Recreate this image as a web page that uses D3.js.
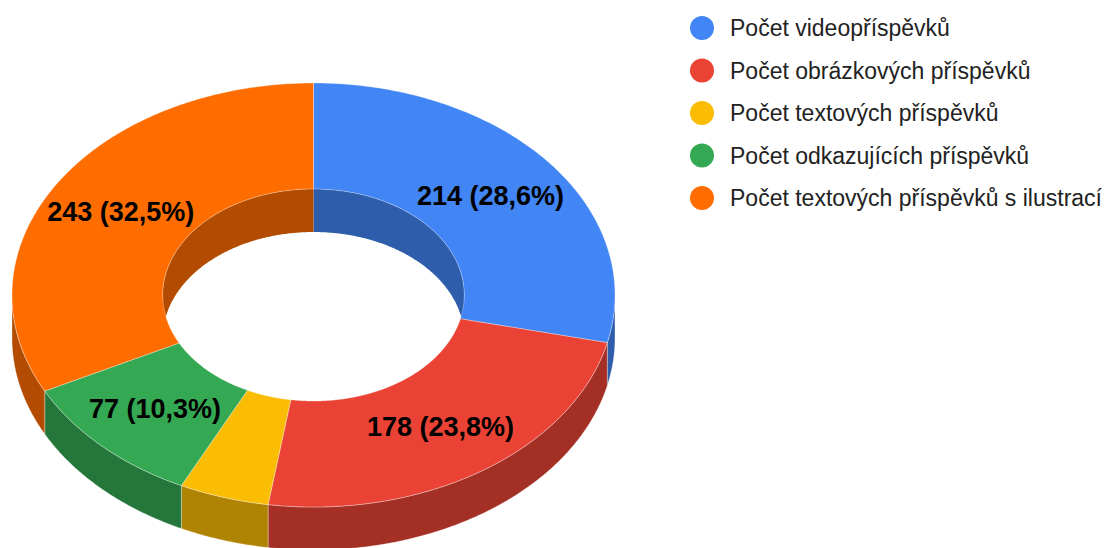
<!DOCTYPE html>
<html>
<head>
<meta charset="utf-8">
<script src="https://cdn.jsdelivr.net/npm/d3@7"></script>
<style>
  html, body { margin: 0; padding: 0; background: #fff; }
  svg { display: block; }
</style>
</head>
<body>
<svg id="chart" width="1109" height="548"></svg>
<script>
// Data
const categories = [
  "Počet videopříspěvků",
  "Počet obrázkových příspěvků",
  "Počet textových příspěvků",
  "Počet odkazujících příspěvků",
  "Počet textových příspěvků s ilustrací"
];
const values = [214, 178, 36, 77, 243];
const colors = ["#4285F4", "#EA4335", "#FBBC04", "#34A853", "#FF6D01"];

// Geometry of the tilted donut
const W = 1109, H = 548;
const cx = 313.5, cy = 295;
const rx = 301.5, ry = 212;
const hole = 0.5;
const depth = 43;
const fontFamily = "Arial, 'Liberation Sans', sans-serif";

const svg = d3.select("#chart");
const total = d3.sum(values);
const fmtPct = v => (v / total * 100).toFixed(1).replace(".", ",") + "%";

const pie = d3.pie().sort(null).startAngle(0).endAngle(2 * Math.PI);
const arcs = pie(values).map((d, i) => ({ ...d, i }));

// point on an ellipse for angle a (0 = 12 o'clock, clockwise)
const pt = (a, k, dy = 0) => [cx + rx * k * Math.sin(a), cy - ry * k * Math.cos(a) + dy];
function samples(a0, a1, k, dy) {
  const n = Math.max(2, Math.ceil(Math.abs(a1 - a0) / 0.01));
  return d3.range(n + 1).map(j => pt(a0 + (a1 - a0) * j / n, k, dy));
}
const line = d3.line();
const closed = pts => line(pts) + "Z";

// Side band between an elliptical arc and the same arc pushed down by depth
function wall(a0, a1, k) {
  return closed(samples(a0, a1, k, 0).concat(samples(a1, a0, k, depth)));
}
function topSlice(a0, a1) {
  return closed(samples(a0, a1, 1, 0).concat(samples(a1, a0, hole, 0)));
}
const dark = c => d3.rgb(c).darker(1).formatHex();

const g = svg.append("g");

// Inner walls: visible through the hole on the far half
const backRanges = [[0, Math.PI / 2], [1.5 * Math.PI, 2 * Math.PI]];
arcs.forEach(d => {
  backRanges.forEach(([r0, r1]) => {
    const b0 = Math.max(d.startAngle, r0), b1 = Math.min(d.endAngle, r1);
    if (b1 > b0) {
      g.append("path").attr("d", wall(b0, b1, hole))
        .attr("fill", dark(colors[d.i]));
    }
  });
});

// Outer walls: the near half
arcs.forEach(d => {
  const b0 = Math.max(d.startAngle, Math.PI / 2), b1 = Math.min(d.endAngle, 1.5 * Math.PI);
  if (b1 > b0) {
    g.append("path").attr("d", wall(b0, b1, 1))
      .attr("fill", dark(colors[d.i]))
      .attr("stroke", "#fff").attr("stroke-opacity", 0.45).attr("stroke-width", 0.7);
  }
});

// Top faces
arcs.forEach(d => {
  g.append("path").attr("d", topSlice(d.startAngle, d.endAngle))
    .attr("fill", colors[d.i])
    .attr("stroke", "#fff").attr("stroke-opacity", 0.45).attr("stroke-width", 0.7);
});

// Slice labels (small slices stay unlabeled)
arcs.forEach(d => {
  if (d.value / total < 0.06) return;
  const mid = (d.startAngle + d.endAngle) / 2;
  const [x, y] = pt(mid, (1 + hole) / 2, 0);
  g.append("text")
    .attr("x", x).attr("y", y).attr("dy", "0.35em")
    .attr("text-anchor", "middle")
    .attr("font-family", fontFamily).attr("font-size", 27).attr("font-weight", "bold")
    .attr("fill", "#000")
    .text(`${d.value} (${fmtPct(d.value)})`);
});

// Legend
const legend = svg.append("g").attr("transform", "translate(702,28)");
const rows = legend.selectAll("g").data(categories).join("g")
  .attr("transform", (d, i) => `translate(0,${i * 42.5})`);
rows.append("circle").attr("r", 12).attr("fill", (d, i) => colors[i]);
rows.append("text")
  .attr("x", 28).attr("dy", "0.35em")
  .attr("font-family", fontFamily).attr("font-size", 23)
  .attr("fill", "#222")
  .text(d => d);
</script>
</body>
</html>
